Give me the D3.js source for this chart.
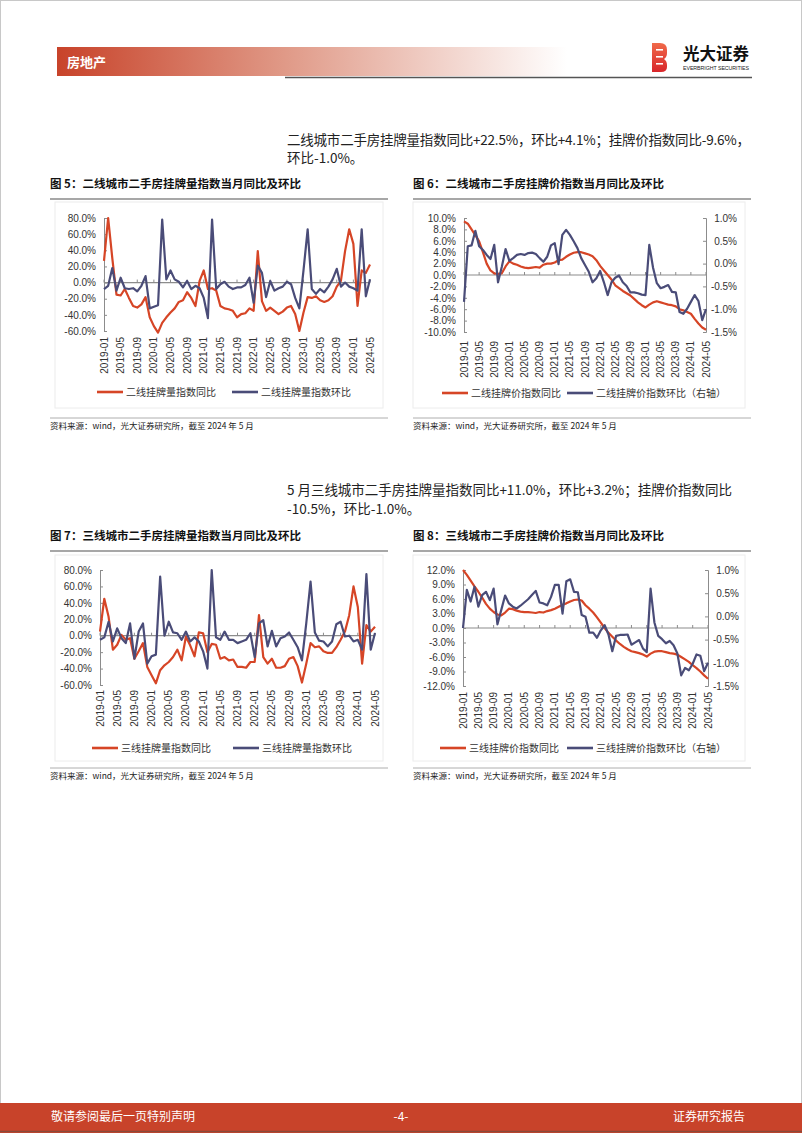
<!DOCTYPE html>
<html>
<head>
<meta charset="utf-8">
<script src="https://cdn.jsdelivr.net/npm/d3@7/dist/d3.min.js"></script>
<style>
  body { margin: 0; background: #fff; }
  svg { display: block; }
  text { font-family: "Noto Sans CJK SC", "Liberation Sans", sans-serif; }
  .num { font-family: "Liberation Sans", Arial, sans-serif; }
</style>
</head>
<body>
<svg id="page" width="802" height="1133"></svg>
<script>
// months Jan 2019 .. May 2024 (category axis)
var months = d3.utcMonth.range(new Date(Date.UTC(2019, 0, 1)), new Date(Date.UTC(2024, 5, 1))).map(d3.utcFormat("%Y-%m"));
var tickLabels = ["2019-01","2019-05","2019-09","2020-01","2020-05","2020-09","2021-01","2021-05","2021-09",
                  "2022-01","2022-05","2022-09","2023-01","2023-05","2023-09","2024-01","2024-05"];

// fig 5: tier-2 listing volume index, yoy / mom (%)
var t2VolYoY = [27,80,30,-15,-16,-8,-19,-29,-31,-27,-18,-43,-54,-62,-50,-43,-37,-32,-24,-22,-12,-19,-29,2,15,-8,-7,-10,-29,-32,-33,-35,
                -43,-39,-38,-32,-35,39,-23,-35,-31,-35,-39,-36,-31,-29,-39,-60,-37,-18,-19,-17,-22,-24,-22,-17,-5,2,39,66,48,-29,15,12,22.5];
var t2VolMoM = [-8,-4,18,-10,6,-7,-8,-7,-11,-4,8,-32,-30,-28,78,4,15,4,1,-6,2,-8,-4,-7,-19,-44,78,-8,-2,1,-5,-8,
                -6,-6,-3,6,-25,21,12,-18,2,-10,-7,-5,1,-2,-19,-32,15,66,-8,-14,-8,-12,-5,4,17,-5,0,-5,-7,-10,66,-17,4.1];

// fig 6: tier-2 listing price index, yoy (left, %) / mom (right, %)
var t2PriceYoY = [9.4,9.0,8.0,7.0,5.9,4.0,2.0,0.8,0.3,0.2,0.3,1.5,2.4,2.0,1.8,1.5,1.3,1.2,1.3,1.4,1.3,1.8,2.0,2.0,2.2,2.6,2.7,3.2,3.6,3.9,4.0,4.0,
                  3.8,3.6,3.3,2.6,1.6,0.8,0.0,-0.8,-1.8,-2.3,-2.8,-3.2,-3.6,-4.2,-4.8,-5.3,-5.7,-5.2,-4.8,-4.6,-4.8,-5.0,-5.2,-5.3,-5.5,-6.0,-6.2,-6.5,-6.8,-7.7,-8.5,-9.2,-9.6];
var t2PriceMoM = [-0.84,0.38,0.40,0.72,0.38,0.30,0.19,0.10,0.41,-0.41,-0.07,0.32,0.06,0.12,0.19,0.21,0.19,0.23,0.24,0.21,0.12,0.04,0.15,0.40,0.45,-0.01,0.63,0.74,0.63,0.49,0.34,0.12,
                  -0.03,-0.18,-0.41,-0.32,-0.16,-0.41,-0.69,-0.41,-0.31,-0.26,-0.41,-0.49,-0.63,-0.63,-0.65,-0.68,-0.69,0.41,-0.09,-0.43,-0.54,-0.51,-0.47,-0.62,-0.63,-1.06,-1.10,-0.99,-0.84,-0.69,-0.82,-1.24,-1.0];

// fig 7: tier-3 listing volume index, yoy / mom (%)
var t3VolYoY = [5,45,23,-17,-11,1,-5,-3,-28,-19,-9,-38,-48,-58,-42,-36,-32,-26,-17,-30,-1,-12,-25,4,3,-20,-10,-11,-28,-26,-30,-29,
                -38,-38,-39,-32,-32,25,-26,-34,-28,-39,-39,-37,-28,-26,-37,-57,-34,-9,-14,-13,-19,-21,-21,-14,-5,5,25,60,35,-34,13,5,11.0];
var t3VolMoM = [-5,-2,17,-7,9,-3,-9,15,-28,5,15,-34,-25,-23,72,0,17,4,3,-5,5,-7,-2,-7,-19,-40,80,-2,-5,5,-5,-5,
                -9,-7,-5,3,-26,15,19,-13,6,-13,-3,-1,4,-5,-14,-30,15,66,4,-6,-7,-13,-7,14,17,-1,0,-7,-5,-17,75,-17,3.2];

// fig 8: tier-3 listing price index, yoy (left, %) / mom (right, %)
var t3PriceYoY = [12.0,11.0,9.8,8.6,7.5,6.3,5.0,4.0,3.3,2.8,2.6,3.2,4.0,3.9,3.6,3.4,3.3,3.3,3.2,3.1,3.3,3.2,3.5,3.7,4.0,4.4,4.8,5.1,5.5,5.8,5.9,5.7,
                  4.7,4.0,3.2,2.2,1.1,0.0,-1.0,-1.8,-2.6,-3.3,-3.9,-4.4,-4.8,-5.0,-5.2,-5.5,-5.9,-5.3,-4.9,-4.8,-4.8,-5.0,-5.2,-5.3,-5.5,-6.0,-6.5,-7.0,-7.7,-8.3,-9.0,-9.8,-10.5];
var t3PriceMoM = [-0.25,0.57,0.32,0.64,0.21,0.46,0.53,0.35,0.60,-0.17,0.14,0.45,0.28,0.21,0.17,0.23,0.30,0.37,0.46,0.55,0.30,0.28,0.24,0.42,0.68,0.68,0.06,0.76,0.80,0.53,0.52,0.03,
                  -0.01,-0.35,-0.35,-0.46,-0.30,-0.19,-0.39,-0.75,-0.42,-0.40,-0.40,-0.39,-0.61,-0.56,-0.51,-0.69,-0.77,0.60,-0.13,-0.42,-0.49,-0.58,-0.53,-0.62,-0.80,-1.27,-1.11,-1.16,-1.02,-0.82,-0.85,-1.18,-1.0];

var RED = "#d64526", NAVY = "#4a4c78", AXIS = "#8c8c8c";
var svg = d3.select("#page");

// ---------- page chrome ----------
svg.append("rect").attr("x", 0.5).attr("y", 0.5).attr("width", 801).attr("height", 1132)
  .attr("fill", "none").attr("stroke", "#c8c8c8");

var defs = svg.append("defs");
var hg = defs.append("linearGradient").attr("id", "hdr");
hg.append("stop").attr("offset", "0%").attr("stop-color", "#c8432a");
hg.append("stop").attr("offset", "45%").attr("stop-color", "#e09a88");
hg.append("stop").attr("offset", "100%").attr("stop-color", "#ffffff");
svg.append("rect").attr("x", 57).attr("y", 47).attr("width", 510).attr("height", 29).attr("fill", "url(#hdr)");
svg.append("text").attr("x", 67).attr("y", 67).attr("fill", "#fff").attr("font-size", 13)
  .attr("font-weight", "bold").text("房地产");
svg.append("line").attr("x1", 285).attr("x2", 752).attr("y1", 77.5).attr("y2", 77.5)
  .attr("stroke", "#555").attr("stroke-width", 1.6);

// logo
var lg = defs.append("linearGradient").attr("id", "logo").attr("x1", 0).attr("x2", 0).attr("y1", 0).attr("y2", 1);
lg.append("stop").attr("offset", "0%").attr("stop-color", "#f06a4a");
lg.append("stop").attr("offset", "100%").attr("stop-color", "#d8262a");
svg.append("path").attr("fill", "url(#logo)")
  .attr("d", "M652,43 h8 q7,0 7,7 v3 q0,4 -3,6 q3,2 3,6 v2 q0,5 -6,5 h-9 z");
[49, 56, 63].forEach(function(y) {
  svg.append("rect").attr("x", 656).attr("y", y).attr("width", 7).attr("height", 1.6).attr("fill", "#fff");
});
svg.append("text").attr("x", 683).attr("y", 60).attr("font-size", 16.5).attr("font-weight", "bold")
  .attr("fill", "#111").text("光大证券");
svg.append("text").attr("class", "num").attr("x", 683).attr("y", 69.5).attr("font-size", 5.3)
  .attr("fill", "#222").attr("textLength", 66).text("EVERBRIGHT SECURITIES");

// footer
svg.append("rect").attr("x", 0).attr("y", 1103).attr("width", 802).attr("height", 30).attr("fill", "#c8432a");
svg.append("line").attr("x1", 0).attr("x2", 802).attr("y1", 1131.5).attr("y2", 1131.5).attr("stroke", "#8a4a3a").attr("stroke-width", 1.5);
svg.append("text").attr("x", 51).attr("y", 1121).attr("font-size", 12).attr("fill", "#fff").text("敬请参阅最后一页特别声明");
svg.append("text").attr("x", 401).attr("y", 1121).attr("font-size", 12).attr("fill", "#fff").attr("text-anchor", "middle").text("-4-");
svg.append("text").attr("x", 745).attr("y", 1121).attr("font-size", 12).attr("fill", "#fff").attr("text-anchor", "end").text("证券研究报告");

// body text
function para(y, s, len) {
  var t = svg.append("text").attr("x", 287).attr("y", y).attr("font-size", 13.5).attr("fill", "#222").text(s);
  if (len) t.attr("textLength", len).attr("lengthAdjust", "spacing");
}
para(145, "二线城市二手房挂牌量指数同比+22.5%，环比+4.1%；挂牌价指数同比-9.6%，", 463);
para(163, "环比-1.0%。");
para(495, "5 月三线城市二手房挂牌量指数同比+11.0%，环比+3.2%；挂牌价指数同比", 445);
para(514, "-10.5%，环比-1.0%。");

// figure titles
function figTitle(x, y, s) {
  svg.append("text").attr("x", x).attr("y", y).attr("font-size", 11.5).attr("font-weight", "bold").attr("fill", "#111").text(s);
  svg.append("line").attr("x1", x).attr("x2", x + 338).attr("y1", y + 11).attr("y2", y + 11)
    .attr("stroke", "#8a8a8a").attr("stroke-width", 1.3);
}
figTitle(50, 188, "图 5：二线城市二手房挂牌量指数当月同比及环比");
figTitle(413, 188, "图 6：二线城市二手房挂牌价指数当月同比及环比");
figTitle(50, 540, "图 7：三线城市二手房挂牌量指数当月同比及环比");
figTitle(413, 540, "图 8：三线城市二手房挂牌价指数当月同比及环比");

// ---------- charts ----------
function drawChart(c) {
  var g = svg.append("g");
  g.append("rect").attr("x", c.fx).attr("y", c.fy).attr("width", c.fw).attr("height", c.fh)
    .attr("fill", "none").attr("stroke", "#ececec");

  var x = d3.scalePoint().domain(months).range([c.left, c.right]);
  var yL = d3.scaleLinear().domain(c.yL).range([c.bottom, c.top]);
  var yR = c.yR ? d3.scaleLinear().domain(c.yR).range([c.bottom, c.top]) : null;

  // left axis
  var ax = g.append("g").attr("transform", "translate(" + c.left + ",0)")
    .call(d3.axisLeft(yL).tickValues(d3.range(c.yL[0], c.yL[1] + 1e-9, c.stepL))
      .tickFormat(function(d) { return d.toFixed(1) + "%"; }).tickSize(-3).tickPadding(8));
  ax.select(".domain").attr("stroke", AXIS);
  ax.selectAll(".tick line").attr("stroke", AXIS);
  ax.selectAll("text").attr("class", "num").attr("font-size", 10).attr("fill", "#333");

  if (yR) {
    var ar = g.append("g").attr("transform", "translate(" + c.right + ",0)")
      .call(d3.axisRight(yR).tickValues(d3.range(c.yR[0], c.yR[1] + 1e-9, c.stepR))
        .tickFormat(function(d) { return d.toFixed(1) + "%"; }).tickSize(-3).tickPadding(4));
    ar.select(".domain").attr("stroke", AXIS);
    ar.selectAll(".tick line").attr("stroke", AXIS);
    ar.selectAll("text").attr("class", "num").attr("font-size", 10).attr("fill", "#333")
      .attr("text-anchor", "end").attr("x", 31);
  }

  // category axis on the zero line, labels at the bottom
  var y0 = yL(0);
  g.append("line").attr("x1", c.left).attr("x2", c.right).attr("y1", y0).attr("y2", y0)
    .attr("stroke", AXIS).attr("stroke-width", 1.2);
  g.selectAll(".xt").data(tickLabels).enter().append("line")
    .attr("x1", function(d) { return x(d); }).attr("x2", function(d) { return x(d); })
    .attr("y1", y0).attr("y2", y0 - 3).attr("stroke", AXIS);
  g.selectAll(".xl").data(tickLabels).enter().append("text")
    .attr("class", "num").attr("font-size", 10).attr("fill", "#333")
    .attr("text-anchor", "end").attr("dy", "0.35em")
    .attr("transform", function(d) { return "translate(" + x(d) + "," + (c.bottom + c.lblOff) + ") rotate(-90)"; })
    .text(function(d) { return d; });

  // series
  var lineL = d3.line().x(function(d, i) { return x(months[i]); }).y(function(d) { return yL(d); });
  var lineR = d3.line().x(function(d, i) { return x(months[i]); }).y(function(d) { return (yR || yL)(d); });
  g.append("path").datum(c.s1).attr("d", lineL).attr("fill", "none")
    .attr("stroke", RED).attr("stroke-width", 2.2).attr("stroke-linejoin", "round");
  g.append("path").datum(c.s2).attr("d", lineR).attr("fill", "none")
    .attr("stroke", NAVY).attr("stroke-width", 2.2).attr("stroke-linejoin", "round");

  // legend
  [[c.leg[0], RED, c.names[0]], [c.leg[1], NAVY, c.names[1]]].forEach(function(it) {
    g.append("line").attr("x1", it[0]).attr("x2", it[0] + 26).attr("y1", c.legY).attr("y2", c.legY)
      .attr("stroke", it[1]).attr("stroke-width", 2.6);
    g.append("text").attr("x", it[0] + 29).attr("y", c.legY).attr("dy", "0.35em")
      .attr("font-size", 10).attr("fill", "#333").text(it[2]);
  });

  // source
  g.append("line").attr("x1", c.srcX).attr("x2", c.srcX + 338).attr("y1", c.srcY - 8).attr("y2", c.srcY - 8)
    .attr("stroke", "#9a9a9a").attr("stroke-width", 0.8);
  g.append("text").attr("x", c.srcX).attr("y", c.srcY).attr("dy", "0.35em")
    .attr("font-size", 8.5).attr("fill", "#222").text("资料来源：wind，光大证券研究所，截至 2024 年 5 月");
}

drawChart({ fx: 55, fy: 202, fw: 328, fh: 206, left: 104, right: 370, top: 218, bottom: 331,
  yL: [-60, 80], stepL: 20, lblOff: 6, s1: t2VolYoY, s2: t2VolMoM,
  leg: [97, 232], legY: 392, names: ["二线挂牌量指数同比", "二线挂牌量指数环比"], srcX: 50, srcY: 426 });
drawChart({ fx: 413, fy: 202, fw: 332, fh: 206, left: 464, right: 706, top: 218, bottom: 332,
  yL: [-10, 10], stepL: 2, yR: [-1.5, 1.0], stepR: 0.5, lblOff: 9, s1: t2PriceYoY, s2: t2PriceMoM,
  leg: [442, 567], legY: 393, names: ["二线挂牌价指数同比", "二线挂牌价指数环比（右轴）"], srcX: 413, srcY: 426 });
drawChart({ fx: 55, fy: 555, fw: 328, fh: 206, left: 100, right: 375, top: 570, bottom: 685,
  yL: [-60, 80], stepL: 20, lblOff: 5, s1: t3VolYoY, s2: t3VolMoM,
  leg: [92, 233], legY: 748, names: ["三线挂牌量指数同比", "三线挂牌量指数环比"], srcX: 50, srcY: 776 });
drawChart({ fx: 413, fy: 555, fw: 332, fh: 206, left: 463, right: 708, top: 570, bottom: 686,
  yL: [-12, 12], stepL: 3, yR: [-1.5, 1.0], stepR: 0.5, lblOff: 6, s1: t3PriceYoY, s2: t3PriceMoM,
  leg: [440, 567], legY: 748, names: ["三线挂牌价指数同比", "三线挂牌价指数环比（右轴）"], srcX: 413, srcY: 776 });
</script>
</body>
</html>
